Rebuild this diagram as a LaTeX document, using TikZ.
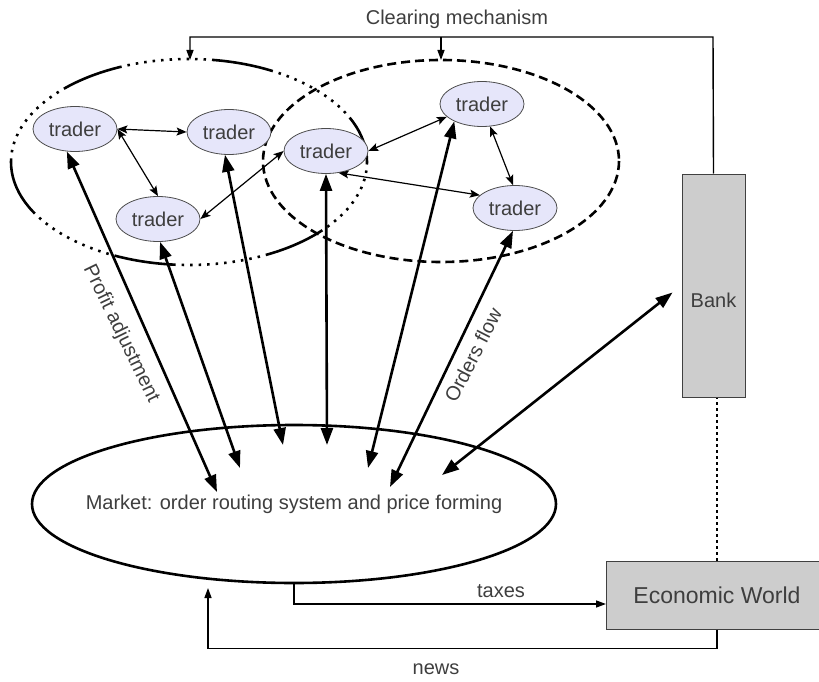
\documentclass[tikz,border=0pt]{standalone}
\usepackage{fontspec}
\setmainfont{Liberation Sans}
\usetikzlibrary{arrows.meta,calc,shapes.geometric}

\definecolor{txtgray}{RGB}{62,62,62}
\definecolor{traderfill}{RGB}{230,230,250}
\definecolor{boxgray}{RGB}{205,205,205}

\tikzset{every picture/.style={line width=1.2pt},
  trader/.style={ellipse, draw=black!70, line width=0.8pt, fill=traderfill, minimum width=84pt, minimum height=45pt, inner sep=0pt, text=txtgray, font=\fontsize{20}{24}\selectfont},
  lbl/.style={inner sep=0pt, text=txtgray, font=\fontsize{20}{24}\selectfont},
  graybox/.style={rectangle, draw=black!75, line width=1pt, fill=boxgray, inner sep=0pt},
  flow/.style={line width=2.6pt, {Triangle[length=17pt,width=12pt]}-{Triangle[length=17pt,width=12pt]}},
  link/.style={line width=1.2pt, {Stealth[length=10pt,width=8pt,inset=2pt]}-{Stealth[length=10pt,width=8pt,inset=2pt]}},
  feed/.style={line width=1.4pt, -{Triangle[length=10pt,width=7pt]}}
}

\begin{document}
\begin{tikzpicture}[x=1pt,y=1pt,yscale=-1,xscale=1]
\useasboundingbox (0,0) rectangle (819,682);

%Shape: Ellipse (left group)
\draw [line width=2.6pt, dash pattern={on 62pt off 6pt on 2.5pt off 6pt on 2.5pt off 6pt on 2.5pt off 6pt on 2.5pt off 6pt on 2.5pt off 6pt on 2.5pt off 6pt on 2.5pt off 6pt on 2.5pt off 6pt on 2.5pt off 6pt on 2.5pt off 6pt}, dash phase=68pt] (189,162) ellipse [x radius=178, y radius=103];
%Shape: Ellipse (right group)
\draw [line width=2.6pt, dash pattern={on 9pt off 5pt}] (441,161) ellipse [x radius=178, y radius=101];

% Trader nodes
\node [trader] (t1) at (75,129) {trader};
\node [trader] (t2) at (229,132) {trader};
\node [trader] (t3) at (158,219) {trader};
\node [trader] (t4) at (326,151) {trader};
\node [trader] (t5) at (482,104) {trader};
\node [trader] (t6) at (515,208) {trader};

%Shape: Market
\node [ellipse, draw, line width=2.6pt, minimum width=524pt, minimum height=158pt, inner sep=0pt, text=txtgray, font=\fontsize{20}{24}\selectfont] (market) at (294,504) {\makebox[0pt]{Market: order routing system and price forming}};

%Shape: Bank and Economic World
\node [graybox, minimum width=63pt, minimum height=223pt] (bank) at (713.5,285.5) {};
\node [lbl] (banktxt) at (713.5,300) {Bank};
\node [graybox, minimum width=222pt, minimum height=68pt, text=txtgray, font=\fontsize{23}{27}\selectfont] (eco) at (717,595) {Economic World};

% Free ends
\coordinate (m1) at (217,492);
\coordinate (m2) at (240,468);
\coordinate (m3) at (283,445);
\coordinate (m4) at (327,445);
\coordinate (m5) at (368,468);
\coordinate (m6) at (390,487);
\coordinate (m7) at (442,475);
\coordinate (clrtop) at (713,37);
\coordinate (clrl) at (190,60);
\coordinate (clrr) at (441,60);
\coordinate (taxin) at (606,604);
\coordinate (newsin) at (208,588);

%Straight Lines (links between traders)
\draw [link] (t1.east) -- (t2.west);
\draw [link] (t1.east) -- (t3.north);
\draw [link] (t3.east) -- (t4.west);
\draw [link] (t4.east) -- (t5.200);
\draw [link] (t4.300) -- (t6.160);
\draw [link] (t5.290) -- (t6.95);

%Straight Lines (orders to market)
\draw [flow] (t1.250) -- (m1);
\draw [flow] (t3.275) -- (m2);
\draw [flow] (t2.260) -- (m3);
\draw [flow] (t4.south) -- (m4);
\draw [flow] (t5.212) -- (m5);
\draw [flow] (t6.265) -- (m6);
\draw [flow] ($(bank.west)+(-9,7)$) -- (m7);

%Straight Lines (clearing, taxes, news)
\draw [feed] (bank.north) -- (clrtop) -| (clrl);
\draw [feed] (clrr |- clrtop) -- (clrr);
\draw [feed] (market.south) |- (taxin);
\draw [feed] (eco.south) -- ++(0,19) -| (newsin);
\draw [line width=1.2pt, dash pattern={on 3pt off 3pt}] (eco.north) -- (eco.north |- bank.south);

% Text Node
\node [lbl] (clrtxt) at (457,19) {Clearing mechanism};
% Text Node
\node [lbl] (taxtxt) at (501,591) {taxes};
% Text Node
\node [lbl] (newstxt) at (436,669) {news};
% Text Node
\node [lbl, rotate=-64] (proftxt) at (121,334) {Profit adjustment};
% Text Node
\node [lbl, rotate=63] (ordtxt) at (473,355) {Orders flow};

\end{tikzpicture}
\end{document}
